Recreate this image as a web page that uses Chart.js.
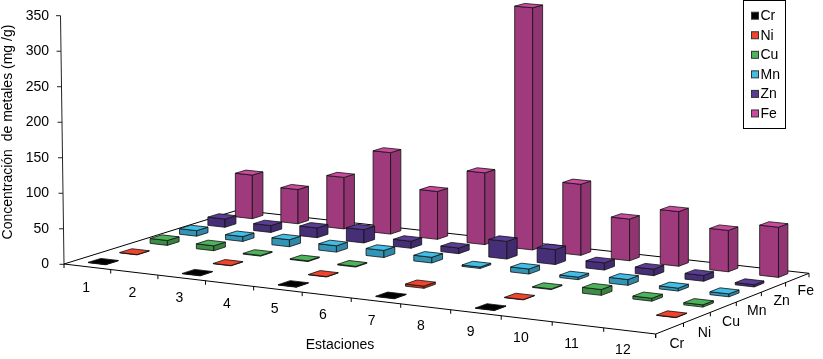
<!DOCTYPE html>
<html>
<head>
<meta charset="utf-8">
<style>
  html, body { margin: 0; padding: 0; background: #fff; }
  canvas { display: block; }
</style>
<script src="https://cdn.jsdelivr.net/npm/chart.js@4"></script>
</head>
<body>
<canvas id="chart" width="823" height="359"></canvas>
<script>
const estaciones = ['1', '2', '3', '4', '5', '6', '7', '8', '9', '10', '11', '12'];
const metales = ['Cr', 'Ni', 'Cu', 'Mn', 'Zn', 'Fe'];
const valoresY = [0, 50, 100, 150, 200, 250, 300, 350];

// null = no bar in the original
const cr = [0.5, null, 0.5, null, 0.5, null, 0.5, null, 0.5, null, null, null];
const ni = [0.5, null, 0.5, null, 0.5, null, 3, null, 0.5, null, null, 0.5];
const cu = [7, 7, 1, 1, 1, null, null, null, 1, 8, 4, 3];
const mn = [8, 7, 10, 9, 10, 8, 2, 7, 3.5, 8, 4, 4];
const zn = [12, 10, 14, 19, 10, 8, 25, 21, 10, 9, 8, 3];
const fe = [64, 50, 75, 118, 69, 103, 346, 101, 59, 77, 58, 70];

const seriesValues = [cr, ni, cu, mn, zn, fe];
const colores = ['#000000', '#f0452c', '#4cb35a', '#41bde6', '#5a3c96', '#c94a9e'];

// floor corners on the page, used for the perspective
const A = [64, 264], B = [655.7, 334], C = [809, 273.3], D = [238, 210];
const sx = A[0] - B[0] + C[0] - D[0], sy = A[1] - B[1] + C[1] - D[1];
const dx1 = B[0] - C[0], dx2 = D[0] - C[0], dy1 = B[1] - C[1], dy2 = D[1] - C[1];
const det = dx1 * dy2 - dx2 * dy1;
const g = (sx * dy2 - dx2 * sy) / det;
const h = (dx1 * sy - sx * dy1) / det;

function floorPt(u, v) {
  v = v + 0.05 * v * (1 - v);
  const w = 1 + g * u + h * v;
  return {
    x: (A[0] + (B[0] * (1 + g) - A[0]) * u + (D[0] * (1 + h) - A[0]) * v) / w,
    y: (A[1] + (B[1] * (1 + g) - A[1]) * u + (D[1] * (1 + h) - A[1]) * v) / w,
    w: w
  };
}

function shade(hex, f) {
  const n = parseInt(hex.slice(1), 16);
  return 'rgb(' + [n >> 16, (n >> 8) & 255, n & 255].map(c => Math.round(c * f)).join(',') + ')';
}

function poly(ctx, pts, fill) {
  ctx.beginPath();
  pts.forEach((p, i) => (i ? ctx.lineTo(p.x, p.y) : ctx.moveTo(p.x, p.y)));
  ctx.closePath();
  ctx.fillStyle = fill;
  ctx.fill();
  ctx.stroke();
}

// same bar chart, each bar is drawn as a box standing on the floor
class Bar3D extends Chart.BarController {
  draw() {
    const chart = this.chart, ctx = chart.ctx;
    const xs = chart.scales.x, ys = chart.scales.y;
    const rows = chart.data.datasets.length;
    const v = (this.index + 0.5) / rows + 0.012 * (this.index + 0.5) / rows;
    const du = 0.1875 / estaciones.length, dv = 0.2 / rows;
    const color = this.getDataset().backgroundColor;
    ctx.save();
    ctx.strokeStyle = '#111';
    ctx.lineWidth = 0.8;
    ctx.lineJoin = 'round';
    this.getDataset().data.forEach((val, i) => {
      if (val === null) return;
      const u = (xs.getPixelForValue(i) - xs.left) / xs.width;
      const height = ys.getPixelForValue(0) - ys.getPixelForValue(val);
      const up = p => ({ x: p.x, y: p.y - height / p.w });
      const fl = floorPt(u - du, v - dv), fr = floorPt(u + du, v - dv);
      const br = floorPt(u + du, v + dv), bl = floorPt(u - du, v + dv);
      poly(ctx, [fl, fr, up(fr), up(fl)], shade(color, 0.79));
      poly(ctx, [fr, br, up(br), up(fr)], shade(color, 0.72));
      poly(ctx, [up(fl), up(fr), up(br), up(bl)], color);
    });
    ctx.restore();
  }
}
Bar3D.id = 'bar3d';
Bar3D.defaults = Chart.BarController.defaults;
Bar3D.overrides = Chart.BarController.overrides;
Chart.register(Bar3D);

const FONT = '14px "Liberation Sans", Arial, sans-serif';

const floorPlugin = {
  id: 'floor',
  beforeDatasetsDraw(chart) {
    const { ctx, scales: { y: ys } } = chart;
    const line = (a, b) => {
      ctx.beginPath();
      ctx.moveTo(a.x, a.y);
      ctx.lineTo(b.x, b.y);
      ctx.stroke();
    };
    ctx.save();
    ctx.strokeStyle = '#000';
    ctx.fillStyle = '#000';
    ctx.lineWidth = 1;
    line(floorPt(0, 0), floorPt(1, 0));
    line(floorPt(1, 0), floorPt(1, 1));
    line(floorPt(1, 1), floorPt(0, 1));
    line(floorPt(0, 1), floorPt(0, 0));

    // value axis leans a little to the left
    const axisX = val => A[0] - 3.5 * val / 350;
    ctx.strokeStyle = '#222';
    line({ x: axisX(0), y: ys.getPixelForValue(0) }, { x: axisX(350), y: ys.getPixelForValue(350) });
    valoresY.forEach(val => {
      const py = ys.getPixelForValue(val);
      line({ x: axisX(val) - 4.5, y: py }, { x: axisX(val), y: py });
    });
    ctx.strokeStyle = '#000';

    ctx.font = FONT;
    ctx.textAlign = 'center';
    ctx.textBaseline = 'middle';
    for (let i = 0; i <= estaciones.length; i++) {
      const p = floorPt(i / estaciones.length, 0);
      line(p, { x: p.x, y: p.y + 4 });
    }
    estaciones.forEach((s, i) => {
      const u = (i + 0.5) / estaciones.length;
      const p = floorPt(u, 0);
      ctx.fillText(s, p.x - 1 - 6 * u, p.y + 21 - 2 * u);
    });
    for (let i = 0; i <= metales.length; i++) {
      const p = floorPt(1, i / metales.length);
      line(p, { x: p.x, y: p.y + 4 });
    }
    metales.forEach((m, i) => {
      const v = (i + 0.5) / metales.length;
      const p = floorPt(1, v);
      ctx.fillText(m, p.x + 7 + 1.5 * v, p.y + 16 - 3 * v);
    });

    ctx.fillText('Estaciones', 340, 345);
    ctx.translate(8, 132);
    ctx.rotate(-Math.PI / 2);
    ctx.fillText('Concentración  de metales (mg /g)', 0, 0);
    ctx.restore();
  },
  afterDraw(chart) {
    const ctx = chart.ctx;
    ctx.save();
    ctx.strokeStyle = '#000';
    ctx.lineWidth = 1;
    ctx.strokeRect(743.5, 0.5, 42, 128);
    ctx.font = FONT;
    ctx.textAlign = 'left';
    ctx.textBaseline = 'middle';
    metales.forEach((m, i) => {
      const y = 15.7 + i * 19.55;
      ctx.fillStyle = colores[i];
      ctx.strokeStyle = '#333';
      ctx.fillRect(751.5, y - 3.5, 7, 7);
      ctx.strokeRect(751.5, y - 3.5, 7, 7);
      ctx.fillStyle = '#000';
      ctx.fillText(m, 760.5, y + 0.5);
    });
    ctx.restore();
  }
};

new Chart(document.getElementById('chart'), {
  type: 'bar3d',
  data: {
    labels: estaciones,
    datasets: metales.map((m, i) => ({
      label: m,
      data: seriesValues[i],
      backgroundColor: colores[i],
      clip: false
    }))
  },
  options: {
    responsive: false,
    animation: false,
    layout: { padding: { left: 0, top: 15.7, right: 14, bottom: 94.7 } },
    plugins: { legend: { display: false }, tooltip: { enabled: false } },
    scales: {
      x: { display: false },
      y: {
        min: 0,
        max: 350,
        afterFit: s => { s.width = 64; s.paddingTop = 0; s.paddingBottom = 0; },
        grid: { display: false },
        border: { display: false },
        ticks: {
          stepSize: 50,
          padding: 7,
          color: '#000',
          font: { family: '"Liberation Sans", Arial, sans-serif', size: 14 }
        }
      }
    }
  },
  plugins: [floorPlugin]
});
</script>
</body>
</html>
